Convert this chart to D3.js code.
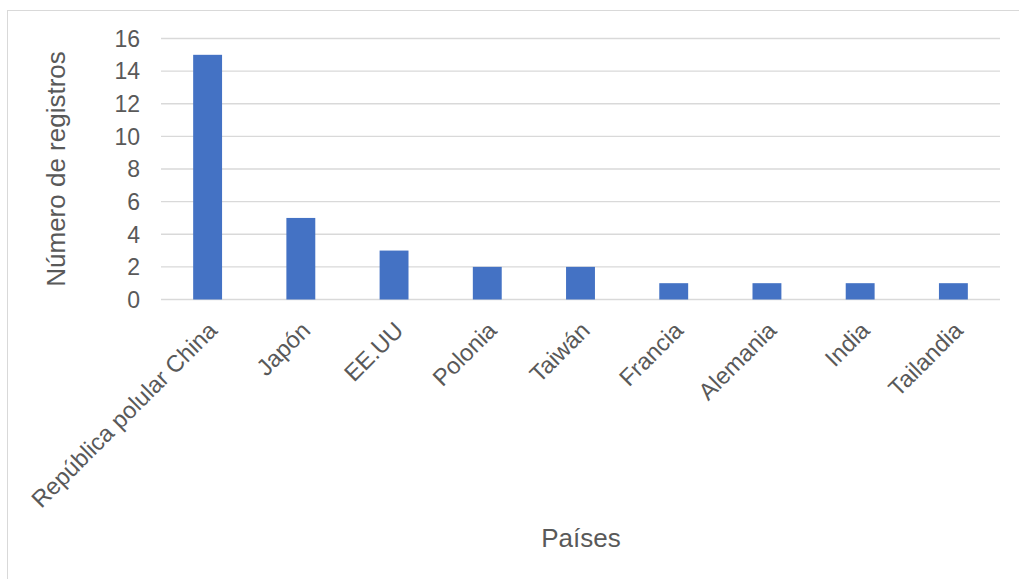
<!DOCTYPE html>
<html><head><meta charset="utf-8">
<script src="https://cdn.jsdelivr.net/npm/d3@7"></script>
<style>body{margin:0;background:#fff}</style>
</head><body><svg id="c" width="1019" height="579"></svg>
<script>
const categories = ["República polular China","Japón","EE.UU","Polonia","Taiwán","Francia","Alemania","India","Tailandia"];
const values = [15,5,3,2,2,1,1,1,1];
const yTicks = [0,2,4,6,8,10,12,14,16];

(function(){
const svg = d3.select("#c");
const font = "Arial, 'Liberation Sans', sans-serif";
svg.append("rect").attr("x",7.5).attr("y",10.5).attr("width",1030).attr("height",600)
  .attr("fill","#fff").attr("stroke","#d9d9d9").attr("stroke-width",1);

const pL=161, pR=1000, pT=38.5, pB=299.5;
const x = d3.scaleBand().domain(categories).range([pL,pR]).paddingInner(0.69).paddingOuter(0.345);
const y = d3.scaleLinear().domain([0,16]).range([pB,pT]);

svg.append("g").selectAll("line").data(yTicks).join("line")
  .attr("x1",pL).attr("x2",pR).attr("y1",d=>y(d)).attr("y2",d=>y(d))
  .attr("stroke","#d9d9d9").attr("stroke-width",1.3);

svg.append("g").selectAll("text").data(yTicks).join("text")
  .attr("x",140).attr("y",d=>y(d)).attr("dy","0.36em").attr("text-anchor","end")
  .attr("font-family",font).attr("font-size",23).attr("fill","#595959").text(d=>d);

svg.append("g").selectAll("rect").data(values).join("rect")
  .attr("x",(d,i)=>x(categories[i])).attr("width",x.bandwidth())
  .attr("y",d=>y(d)).attr("height",d=>y(0)-y(d)).attr("fill","#4472c4");

svg.append("g").selectAll("text").data(categories).join("text")
  .attr("transform",d=>`translate(${x(d)+x.bandwidth()/2+5},${326}) rotate(-45)`)
  .attr("text-anchor","end").attr("dy","0.35em")
  .attr("font-family",font).attr("font-size",23.6).attr("fill","#595959").text(d=>d);

svg.append("text").attr("transform",`translate(65,${169}) rotate(-90)`)
  .attr("text-anchor","middle")
  .attr("font-family",font).attr("font-size",26).attr("fill","#595959").text("Número de registros");

svg.append("text").attr("x",581).attr("y",547).attr("text-anchor","middle")
  .attr("font-family",font).attr("font-size",26).attr("fill","#595959").text("Países");
})();
</script></body></html>
